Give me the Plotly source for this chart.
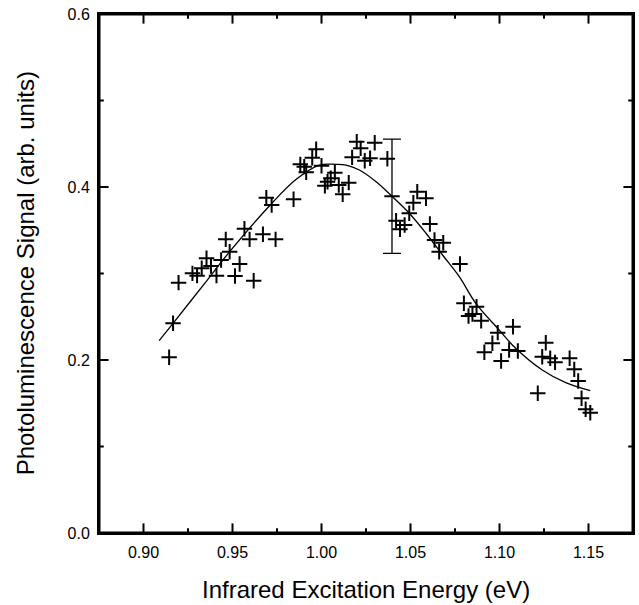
import plotly.graph_objects as go

# Measured data points (energy in eV, PL signal in arb. units)
energy = [0.9144, 0.9166, 0.9197, 0.9275, 0.9301, 0.9327, 0.9354, 0.9379, 0.9410, 0.9436,
          0.9462, 0.9484, 0.9514, 0.9540, 0.9567, 0.9596, 0.9619, 0.9671, 0.9690, 0.9720,
          0.9742, 0.9843, 0.9881, 0.9903, 0.9914, 0.9948, 0.9970, 1.0000, 1.0019, 1.0034,
          1.0052, 1.0075, 1.0097, 1.0119, 1.0153, 1.0172, 1.0198, 1.0220, 1.0243, 1.0273,
          1.0299, 1.0370, 1.0419, 1.0441, 1.0467, 1.0493, 1.0516, 1.0538, 1.0587, 1.0609,
          1.0635, 1.0661, 1.0684, 1.0778, 1.0800, 1.0826, 1.0848, 1.0871, 1.0897, 1.0915,
          1.0960, 1.0990, 1.1009, 1.1054, 1.1076, 1.1103, 1.1215, 1.1240, 1.1260, 1.1285,
          1.1312, 1.1394, 1.1420, 1.1442, 1.1461, 1.1484, 1.1510]
signal = [0.2031, 0.2424, 0.2894, 0.3002, 0.2975, 0.3060, 0.3176, 0.3087, 0.2975, 0.3156,
          0.3395, 0.3252, 0.2971, 0.3110, 0.3518, 0.3395, 0.2917, 0.3453, 0.3876, 0.3792,
          0.3395, 0.3858, 0.4262, 0.4235, 0.4170, 0.4339, 0.4436, 0.4246, 0.4015, 0.4061,
          0.4101, 0.4165, 0.4023, 0.3916, 0.4050, 0.4343, 0.4524, 0.4447, 0.4304, 0.4332,
          0.4512, 0.4327, 0.3610, 0.3511, 0.3561, 0.3696, 0.3818, 0.3946, 0.3869, 0.3572,
          0.3387, 0.3252, 0.3356, 0.3110, 0.2656, 0.2509, 0.2532, 0.2616, 0.2454, 0.2089,
          0.2193, 0.2316, 0.1988, 0.2116, 0.2385, 0.2104, 0.1615, 0.2038, 0.2200, 0.2020,
          0.1973, 0.2020, 0.1892, 0.1757, 0.1557, 0.1430, 0.1391]

# Representative point with error bar
eb_energy = [1.0396]
eb_signal = [0.3893]
eb_error = [0.066]

# Fitted curve
fit_energy = [0.9088, 0.9166, 0.9354, 0.9484, 0.9712, 0.9858, 0.9989, 1.0082, 1.0138, 1.0213,
              1.0307, 1.0396, 1.0493, 1.0587, 1.0680, 1.0774, 1.0867, 1.0998, 1.1091, 1.1240,
              1.1372, 1.1510]
fit_signal = [0.2223, 0.2424, 0.2913, 0.3252, 0.3792, 0.4089, 0.4254, 0.4262, 0.4254, 0.4197,
              0.4061, 0.3893, 0.3696, 0.3465, 0.3214, 0.2963, 0.2655, 0.2347, 0.2135, 0.1884,
              0.1738, 0.1645]

x_range = [0.875, 1.175]
y_range = [0.0, 0.6]
x_ticks = [0.90, 0.95, 1.00, 1.05, 1.10, 1.15]
x_tick_labels = ["0.90", "0.95", "1.00", "1.05", "1.10", "1.15"]
x_minor_ticks = [0.925, 0.975, 1.025, 1.075, 1.125]
y_ticks = [0.0, 0.2, 0.4, 0.6]
y_tick_labels = ["0.0", "0.2", "0.4", "0.6"]
y_minor_ticks = [0.1, 0.3, 0.5]
x_title = "Infrared Excitation Energy (eV)"
y_title = "Photoluminescence Signal (arb. units)"

FONT = "Liberation Sans, Arial, sans-serif"
W, H = 639, 605
M = dict(l=99, r=6, t=14, b=72)
plot_w = W - M["l"] - M["r"]
plot_h = H - M["t"] - M["b"]
px_x = (x_range[1] - x_range[0]) / plot_w
px_y = (y_range[1] - y_range[0]) / plot_h
MAJOR_LEN, MINOR_LEN = 8, 4

x0, x1 = x_range
y0, y1 = y_range

# tick marks drawn as short line markers, centred half a tick length inside the frame
def x_tick_markers(vals, ln):
    xs, ys = [], []
    for v in vals:
        xs += [v, v]
        ys += [y0 + ln / 2 * px_y, y1 - ln / 2 * px_y]
    return xs, ys

def y_tick_markers(vals, ln):
    xs, ys = [], []
    for v in vals:
        xs += [x0 + ln / 2 * px_x, x1 - ln / 2 * px_x]
        ys += [v, v]
    return xs, ys

fig = go.Figure()
# frame
fig.add_trace(go.Scatter(x=[x0, x1, x1, x0, x0], y=[y0, y0, y1, y1, y0], mode="lines",
                         line=dict(color="black", width=3), hoverinfo="skip"))
for (xs, ys), sym, ln in ((x_tick_markers(x_ticks, MAJOR_LEN), "line-ns", MAJOR_LEN),
                          (x_tick_markers(x_minor_ticks, MINOR_LEN), "line-ns", MINOR_LEN),
                          (y_tick_markers(y_ticks, MAJOR_LEN), "line-ew", MAJOR_LEN),
                          (y_tick_markers(y_minor_ticks, MINOR_LEN), "line-ew", MINOR_LEN)):
    fig.add_trace(go.Scatter(x=xs, y=ys, mode="markers", cliponaxis=False, hoverinfo="skip",
                             marker=dict(symbol=sym, size=ln, color="black",
                                         line=dict(color="black", width=2))))

fig.add_trace(go.Scatter(x=fit_energy, y=fit_signal, mode="lines",
                         line=dict(color="black", width=1.3, shape="spline", smoothing=1.0),
                         hoverinfo="skip"))
fig.add_trace(go.Scatter(x=energy, y=signal, mode="markers",
                         marker=dict(symbol="cross-thin", size=11, color="black",
                                     line=dict(color="black", width=2))))
fig.add_trace(go.Scatter(x=eb_energy, y=eb_signal, mode="markers",
                         marker=dict(symbol="line-ew", size=11, color="black",
                                     line=dict(color="black", width=2)),
                         error_y=dict(type="data", array=eb_error, visible=True,
                                      color="black", thickness=1.3, width=9)))

base = dict(showgrid=False, zeroline=False, automargin=False, showline=True,
            linecolor="black", linewidth=2, ticks="", mirror=True,
            tickfont=dict(family=FONT, size=16, color="black"))

fig.update_layout(
    width=W, height=H,
    margin=dict(**M, autoexpand=False),
    plot_bgcolor="white", paper_bgcolor="white",
    showlegend=False,
    font=dict(family=FONT, color="black"),
    xaxis=dict(range=x_range, tickmode="array", tickvals=x_ticks, ticktext=x_tick_labels,
               ticklabelstandoff=4, **base),
    yaxis=dict(range=y_range, tickmode="array", tickvals=y_ticks, ticktext=y_tick_labels,
               ticklabelstandoff=4, **base),
    annotations=[
        dict(text=x_title, xref="paper", yref="paper", x=0.5, y=-0.108, xanchor="center",
             yanchor="middle", showarrow=False, font=dict(family=FONT, size=24, color="black")),
        dict(text=y_title, xref="paper", yref="paper", x=-0.137, y=0.5, xanchor="center",
             yanchor="middle", textangle=-90, showarrow=False,
             font=dict(family=FONT, size=24, color="black")),
    ],
)

fig.write_html("out.html", config={"displayModeBar": False},
               post_script="document.body.style.margin='0';document.body.style.overflow='hidden';")
